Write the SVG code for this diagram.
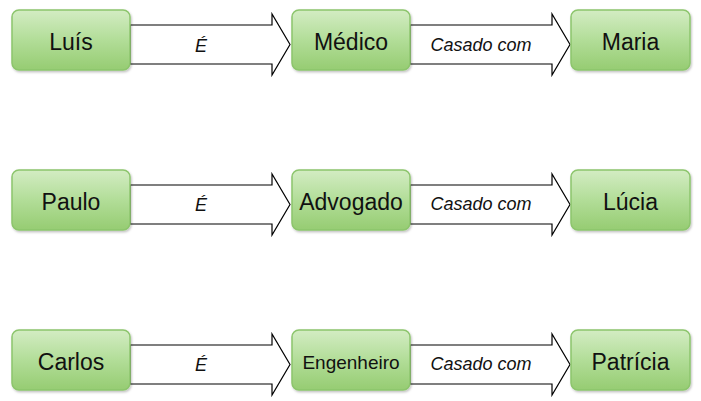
<svg xmlns="http://www.w3.org/2000/svg" width="701" height="401" viewBox="0 0 701 401">
<defs>
<linearGradient id="g" x1="0" y1="0" x2="0" y2="1">
<stop offset="0" stop-color="#d3ecc3"/>
<stop offset="0.5" stop-color="#b2dd98"/>
<stop offset="1" stop-color="#96cc72"/>
</linearGradient>
<filter id="sh" x="-10%" y="-10%" width="130%" height="130%">
<feDropShadow dx="1" dy="1.5" stdDeviation="1.2" flood-color="#000" flood-opacity="0.25"/>
</filter>
<path id="arr" d="M0,15 H142 V4 L160,34.5 L142,65 V54 H0 Z"/>
</defs>
<style>
.n rect{fill:url(#g);stroke:#8cc56c;stroke-width:1.5;filter:url(#sh)}
.n text{font-family:"Liberation Sans",Arial,sans-serif;font-size:23px;fill:#111;text-anchor:middle;dominant-baseline:central}
.c use{fill:#fff;stroke:#000;stroke-width:1.2}
.c text{font-family:"Liberation Sans",Arial,sans-serif;font-size:18px;font-style:italic;fill:#111;text-anchor:middle;dominant-baseline:central}
</style>
<g class="c" id="connectors">
<use href="#arr" x="130" y="10"/>
<use href="#arr" x="410" y="10"/>
<use href="#arr" x="130" y="170"/>
<use href="#arr" x="410" y="170"/>
<use href="#arr" x="130" y="330"/>
<use href="#arr" x="410" y="330"/>
<text x="201" y="46">É</text>
<text x="481" y="45">Casado com</text>
<text x="201" y="205">É</text>
<text x="481" y="204">Casado com</text>
<text x="201" y="365">É</text>
<text x="481" y="364">Casado com</text>
</g>
<g class="n" id="luis"><rect x="12" y="10" width="118" height="60" rx="7"/><text x="71" y="42">Luís</text></g>
<g class="n" id="medico"><rect x="292" y="10" width="118" height="60" rx="7"/><text x="351" y="42">Médico</text></g>
<g class="n" id="maria"><rect x="571" y="10" width="119" height="60" rx="7"/><text x="630.5" y="42">Maria</text></g>
<g class="n" id="paulo"><rect x="12" y="170" width="118" height="60" rx="7"/><text x="71" y="202">Paulo</text></g>
<g class="n" id="advogado"><rect x="292" y="170" width="118" height="60" rx="7"/><text x="351" y="202">Advogado</text></g>
<g class="n" id="lucia"><rect x="571" y="170" width="119" height="60" rx="7"/><text x="630.5" y="202">Lúcia</text></g>
<g class="n" id="carlos"><rect x="12" y="330" width="118" height="60" rx="7"/><text x="71" y="362">Carlos</text></g>
<g class="n" id="engenheiro"><rect x="292" y="330" width="118" height="60" rx="7"/><text x="351" y="362" style="font-size:19px">Engenheiro</text></g>
<g class="n" id="patricia"><rect x="571" y="330" width="119" height="60" rx="7"/><text x="630.5" y="362">Patrícia</text></g>
</svg>
